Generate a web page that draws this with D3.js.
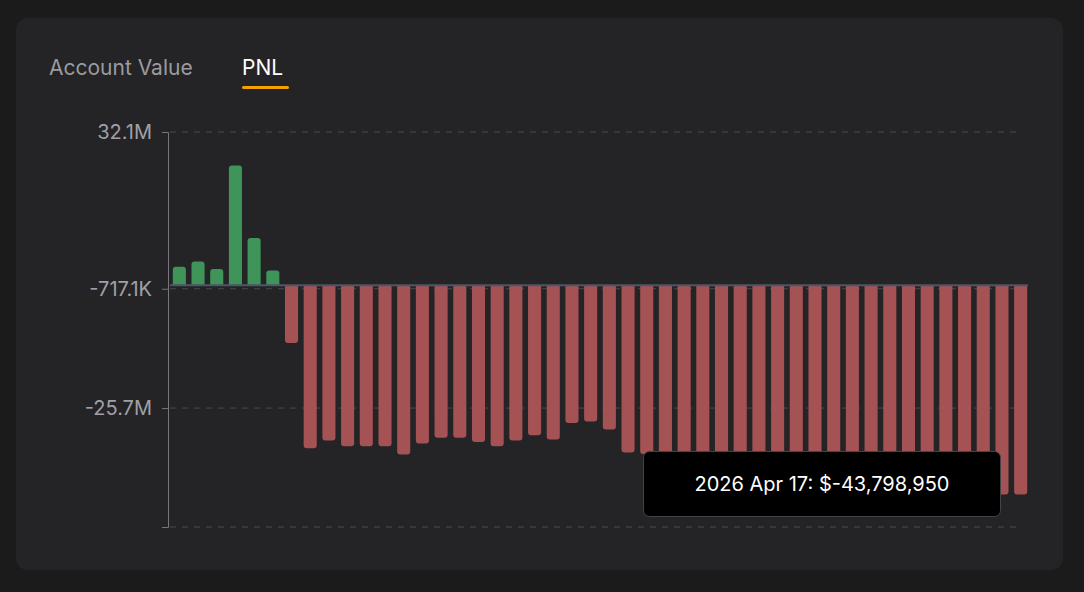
<!DOCTYPE html>
<html><head><meta charset="utf-8">
<script src="https://cdn.jsdelivr.net/npm/d3@7"></script>
<style>
body{margin:0;background:#1b1b1c;font-family:Inter,"Noto Sans",sans-serif;}
</style></head><body>
<svg id="c" width="1084" height="592"></svg>
<script>
const pnlValues = [3.9,5.0,3.4,25.1,9.9,3.1,
 -12.1,-34.1,-32.5,-33.7,-33.7,-33.7,-35.4,-33.1,-31.9,-31.9,-32.8,-33.7,-32.5,-31.4,-32.3,-28.8,-28.5,-30.2,
 -35.0,-35.3,-35.6,-35.9,-36.3,-36.7,-37.1,-37.5,-37.9,-38.3,-38.7,-39.1,-39.5,-39.9,-40.3,-40.7,-41.1,-41.5,-42.0,-42.6,-43.8,-43.8];
const tickValues = [32.1, -0.7171, -25.7, -50.6];
const tickLabels = ["32.1M","-717.1K","-25.7M",""];
const tabs = ["Account Value","PNL"];
const tooltipText = "2026 Apr 17: $-43,798,950";

const svg = d3.select("#c");
svg.append("rect").attr("x",16).attr("y",18).attr("width",1047).attr("height",552).attr("rx",12).attr("fill","#242426");
svg.append("text").attr("x",49).attr("y",75).attr("font-size",21).attr("fill","#9b9ba0").text(tabs[0]);
svg.append("text").attr("x",242).attr("y",75).attr("font-size",21).attr("fill","#ffffff").text(tabs[1]);
svg.append("rect").attr("x",242).attr("y",86).attr("width",47).attr("height",3).attr("rx",1.5).attr("fill","#f5a000");

const x = d3.scaleBand().domain(d3.range(pnlValues.length)).range([170,1030]).paddingInner(0.3).paddingOuter(0.15);
const y = d3.scaleLinear().domain([-50.6,32.1]).range([527,132]);

// grid
svg.append("g").selectAll("line").data(tickValues).join("line")
 .attr("x1",170).attr("x2",1022).attr("y1",d=>y(d)).attr("y2",d=>y(d))
 .attr("stroke","#4a4a4e").attr("stroke-dasharray","6,6");
const ax = svg.append("g").attr("transform","translate(168,0)").call(d3.axisLeft(y).tickValues(tickValues).tickFormat((d,i)=>tickLabels[i]).tickSize(6).tickPadding(10));
ax.select(".domain").attr("stroke","#77777b");
ax.selectAll(".tick line").attr("stroke","#77777b");
ax.selectAll("text").attr("font-size",20).attr("fill","#a0a0a6").attr("font-family","Inter,'Noto Sans',sans-serif");

const r=3;
svg.append("g").selectAll("path").data(pnlValues).join("path")
 .attr("fill",d=>d>=0?"#3e9459":"#a45253")
 .attr("d",(d,i)=>{
   const x0=x(i), w=x.bandwidth(), y0=y(0), y1=y(d);
   if(d>=0) return `M${x0},${y0}V${y1+r}Q${x0},${y1} ${x0+r},${y1}H${x0+w-r}Q${x0+w},${y1} ${x0+w},${y1+r}V${y0}Z`;
   return `M${x0},${y0}V${y1-r}Q${x0},${y1} ${x0+r},${y1}H${x0+w-r}Q${x0+w},${y1} ${x0+w},${y1-r}V${y0}Z`;
 });
svg.append("line").attr("x1",170).attr("x2",1028).attr("y1",y(0)).attr("y2",y(0)).attr("stroke","#4d5566").attr("stroke-width",2);

svg.append("rect").attr("x",643.5).attr("y",451.5).attr("width",357).attr("height",65).attr("rx",6).attr("fill","#000").attr("stroke","#444448");
svg.append("text").attr("x",822).attr("y",491).attr("text-anchor","middle").attr("font-size",20).attr("fill","#fff").text(tooltipText);
</script></body></html>
